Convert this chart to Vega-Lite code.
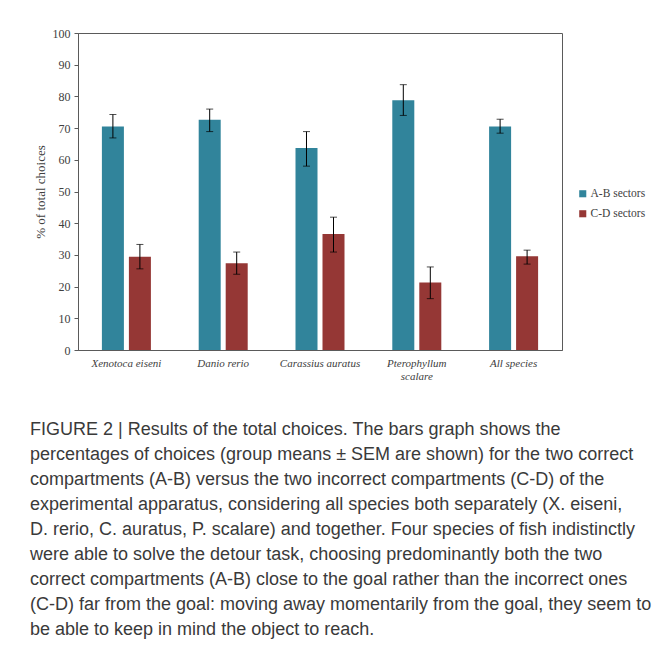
{
  "$schema": "https://vega.github.io/schema/vega-lite/v6.json",
  "width": 484,
  "height": 317,
  "autosize": {"type": "none"},
  "padding": {"left": 78, "top": 33, "right": 108, "bottom": 298},
  "background": "white",
  "config": {
    "view": {"stroke": "#5a5a5a", "strokeWidth": 1},
    "axis": {"domainColor": "#5a5a5a", "tickColor": "#5a5a5a", "labelFont": "Liberation Serif", "titleFont": "Liberation Serif", "labelColor": "#404040", "titleColor": "#404040", "grid": false},
    "axisY": {"labelOverlap": false, "tickSize": 4, "labelPadding": 4, "labelFontSize": 12, "titleFontSize": 13, "titleFontWeight": "normal", "titlePadding": 5}
  },
  "title": {
    "text": [
      "FIGURE 2 | Results of the total choices. The bars graph shows the",
      "percentages of choices (group means ± SEM are shown) for the two correct",
      "compartments (A-B) versus the two incorrect compartments (C-D) of the",
      "experimental apparatus, considering all species both separately (X. eiseni,",
      "D. rerio, C. auratus, P. scalare) and together. Four species of fish indistinctly",
      "were able to solve the detour task, choosing predominantly both the two",
      "correct compartments (A-B) close to the goal rather than the incorrect ones",
      "(C-D) far from the goal: moving away momentarily from the goal, they seem to",
      "be able to keep in mind the object to reach."
    ],
    "orient": "bottom",
    "anchor": "start",
    "frame": "group",
    "offset": 40,
    "dx": -48,
    "font": "Liberation Sans",
    "fontSize": 18,
    "fontWeight": "normal",
    "color": "#3a3a3a",
    "lineHeight": 25
  },
  "data": {
    "values": [
      {"species": "Xenotoca eiseni", "sector": "A-B sectors", "mean": 70.5, "lo": 66.9, "hi": 74.3},
      {"species": "Xenotoca eiseni", "sector": "C-D sectors", "mean": 29.4, "lo": 25.6, "hi": 33.3},
      {"species": "Danio rerio", "sector": "A-B sectors", "mean": 72.6, "lo": 68.9, "hi": 76.0},
      {"species": "Danio rerio", "sector": "C-D sectors", "mean": 27.4, "lo": 23.9, "hi": 30.9},
      {"species": "Carassius auratus", "sector": "A-B sectors", "mean": 63.7, "lo": 58.0, "hi": 68.9},
      {"species": "Carassius auratus", "sector": "C-D sectors", "mean": 36.6, "lo": 30.9, "hi": 41.9},
      {"species": "Pterophyllum scalare", "sector": "A-B sectors", "mean": 78.8, "lo": 74.0, "hi": 83.7},
      {"species": "Pterophyllum scalare", "sector": "C-D sectors", "mean": 21.3, "lo": 16.2, "hi": 26.2},
      {"species": "All species", "sector": "A-B sectors", "mean": 70.5, "lo": 68.4, "hi": 72.8},
      {"species": "All species", "sector": "C-D sectors", "mean": 29.6, "lo": 27.1, "hi": 31.5}
    ]
  },
  "encoding": {
    "x": {
      "field": "species", "type": "nominal", "sort": null,
      "scale": {"paddingInner": 0, "paddingOuter": 0},
      "axis": {"title": null, "labelAngle": 0, "ticks": false, "labelPadding": 7, "labelFontSize": 11, "labelFontStyle": "italic", "labelLimit": 200, "labelLineHeight": 13,
        "labelExpr": "datum.label == 'Pterophyllum scalare' ? ['Pterophyllum', 'scalare'] : datum.label"}
    },
    "xOffset": {"field": "sector", "type": "nominal", "scale": {"paddingInner": 0.185, "paddingOuter": 0.885}}
  },
  "layer": [
    {
      "mark": {"type": "bar"},
      "encoding": {
        "y": {"field": "mean", "type": "quantitative", "scale": {"domain": [0, 100], "nice": false},
          "axis": {"title": "% of total choices", "values": [0, 10, 20, 30, 40, 50, 60, 70, 80, 90, 100]}},
        "color": {"field": "sector", "type": "nominal",
          "scale": {"domain": ["A-B sectors", "C-D sectors"], "range": ["#31849b", "#953735"]},
          "legend": {"title": null, "orient": "none", "legendX": 499, "legendY": 155, "symbolType": "square", "symbolSize": 50, "symbolStrokeWidth": 0, "labelFont": "Liberation Serif", "labelFontSize": 11.5, "labelColor": "#404040", "rowPadding": 7, "labelOffset": 2}}
      }
    },
    {
      "mark": {"type": "rule", "color": "black", "strokeWidth": 1},
      "encoding": {
        "y": {"field": "lo", "type": "quantitative", "axis": {"title": "% of total choices", "values": [0, 10, 20, 30, 40, 50, 60, 70, 80, 90, 100]}},
        "y2": {"field": "hi"}
      }
    },
    {
      "mark": {"type": "tick", "color": "black", "size": 7, "thickness": 1},
      "encoding": {"y": {"field": "lo", "type": "quantitative", "axis": {"title": "% of total choices", "values": [0, 10, 20, 30, 40, 50, 60, 70, 80, 90, 100]}}}
    },
    {
      "mark": {"type": "tick", "color": "black", "size": 7, "thickness": 1},
      "encoding": {"y": {"field": "hi", "type": "quantitative", "axis": {"title": "% of total choices", "values": [0, 10, 20, 30, 40, 50, 60, 70, 80, 90, 100]}}}
    }
  ]
}
